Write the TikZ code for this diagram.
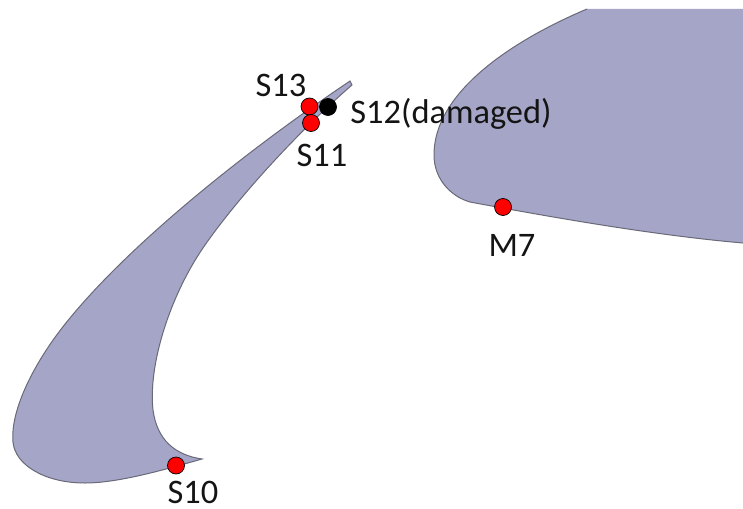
\documentclass[tikz,border=0pt]{standalone}
\usepackage{fontspec}
\setmainfont{Carlito}
\definecolor{wingblue}{RGB}{165,165,199}
\definecolor{winggrey}{RGB}{105,105,120}
\definecolor{sensorred}{RGB}{255,0,0}
\tikzset{
 wing/.style={fill=wingblue,draw=winggrey,line width=1pt},
 sensor/.style={circle,draw=black,line width=0.7pt,inner sep=0pt,minimum size=17pt},
 redsensor/.style={sensor,fill=sensorred},
 blacksensor/.style={sensor,fill=black},
 lab/.style={inner sep=0pt,anchor=base,font=\fontsize{34.4}{34.4}\selectfont,text=black!92}
}
\begin{document}
\begin{tikzpicture}[x=1pt,y=-1pt]
\useasboundingbox (0,0) rectangle (743,508);
% main wing
\fill[wingblue] (587,9) .. controls (530,33) and (434,85) .. (434,155)
  .. controls (434,180) and (452,197) .. (470,202)
  .. controls (540,215) and (650,235) .. (743,243) -- (743,9) -- cycle;
\draw[winggrey,line width=1pt] (587,9) .. controls (530,33) and (434,85) .. (434,155)
  .. controls (434,180) and (452,197) .. (470,202)
  .. controls (540,215) and (650,235) .. (743,243);
% flap
\draw[wing] (13,442) .. controls (10,410) and (35,360) .. (70,318)
  .. controls (130,245) and (240,155) .. (350,81) -- (352,85)
  .. controls (300,130) and (240,195) .. (205,245)
  .. controls (170,295) and (148,365) .. (153,410)
  .. controls (157,440) and (175,455) .. (202,459)
  .. controls (170,468) and (120,483) .. (85,483)
  .. controls (45,483) and (15,465) .. (13,442) -- cycle;
% sensors
\node[redsensor] (s13) at (309.5,106.5) {};
\node[redsensor] (s11) at (311,123) {};
\node[blacksensor] (s12) at (328,107) {};
\node[redsensor] (s10) at (176,465.5) {};
\node[redsensor] (m7) at (503,207) {};
% labels
\node[lab] (l13) at (281,97) {S13};
\node[lab] (l11) at (322,166) {S11};
\node[lab] (l12) at (451,124) {S12(damaged)};
\node[lab] (l10) at (193,503) {S10};
\node[lab] (l7) at (512,256) {M7};
\end{tikzpicture}
\end{document}
